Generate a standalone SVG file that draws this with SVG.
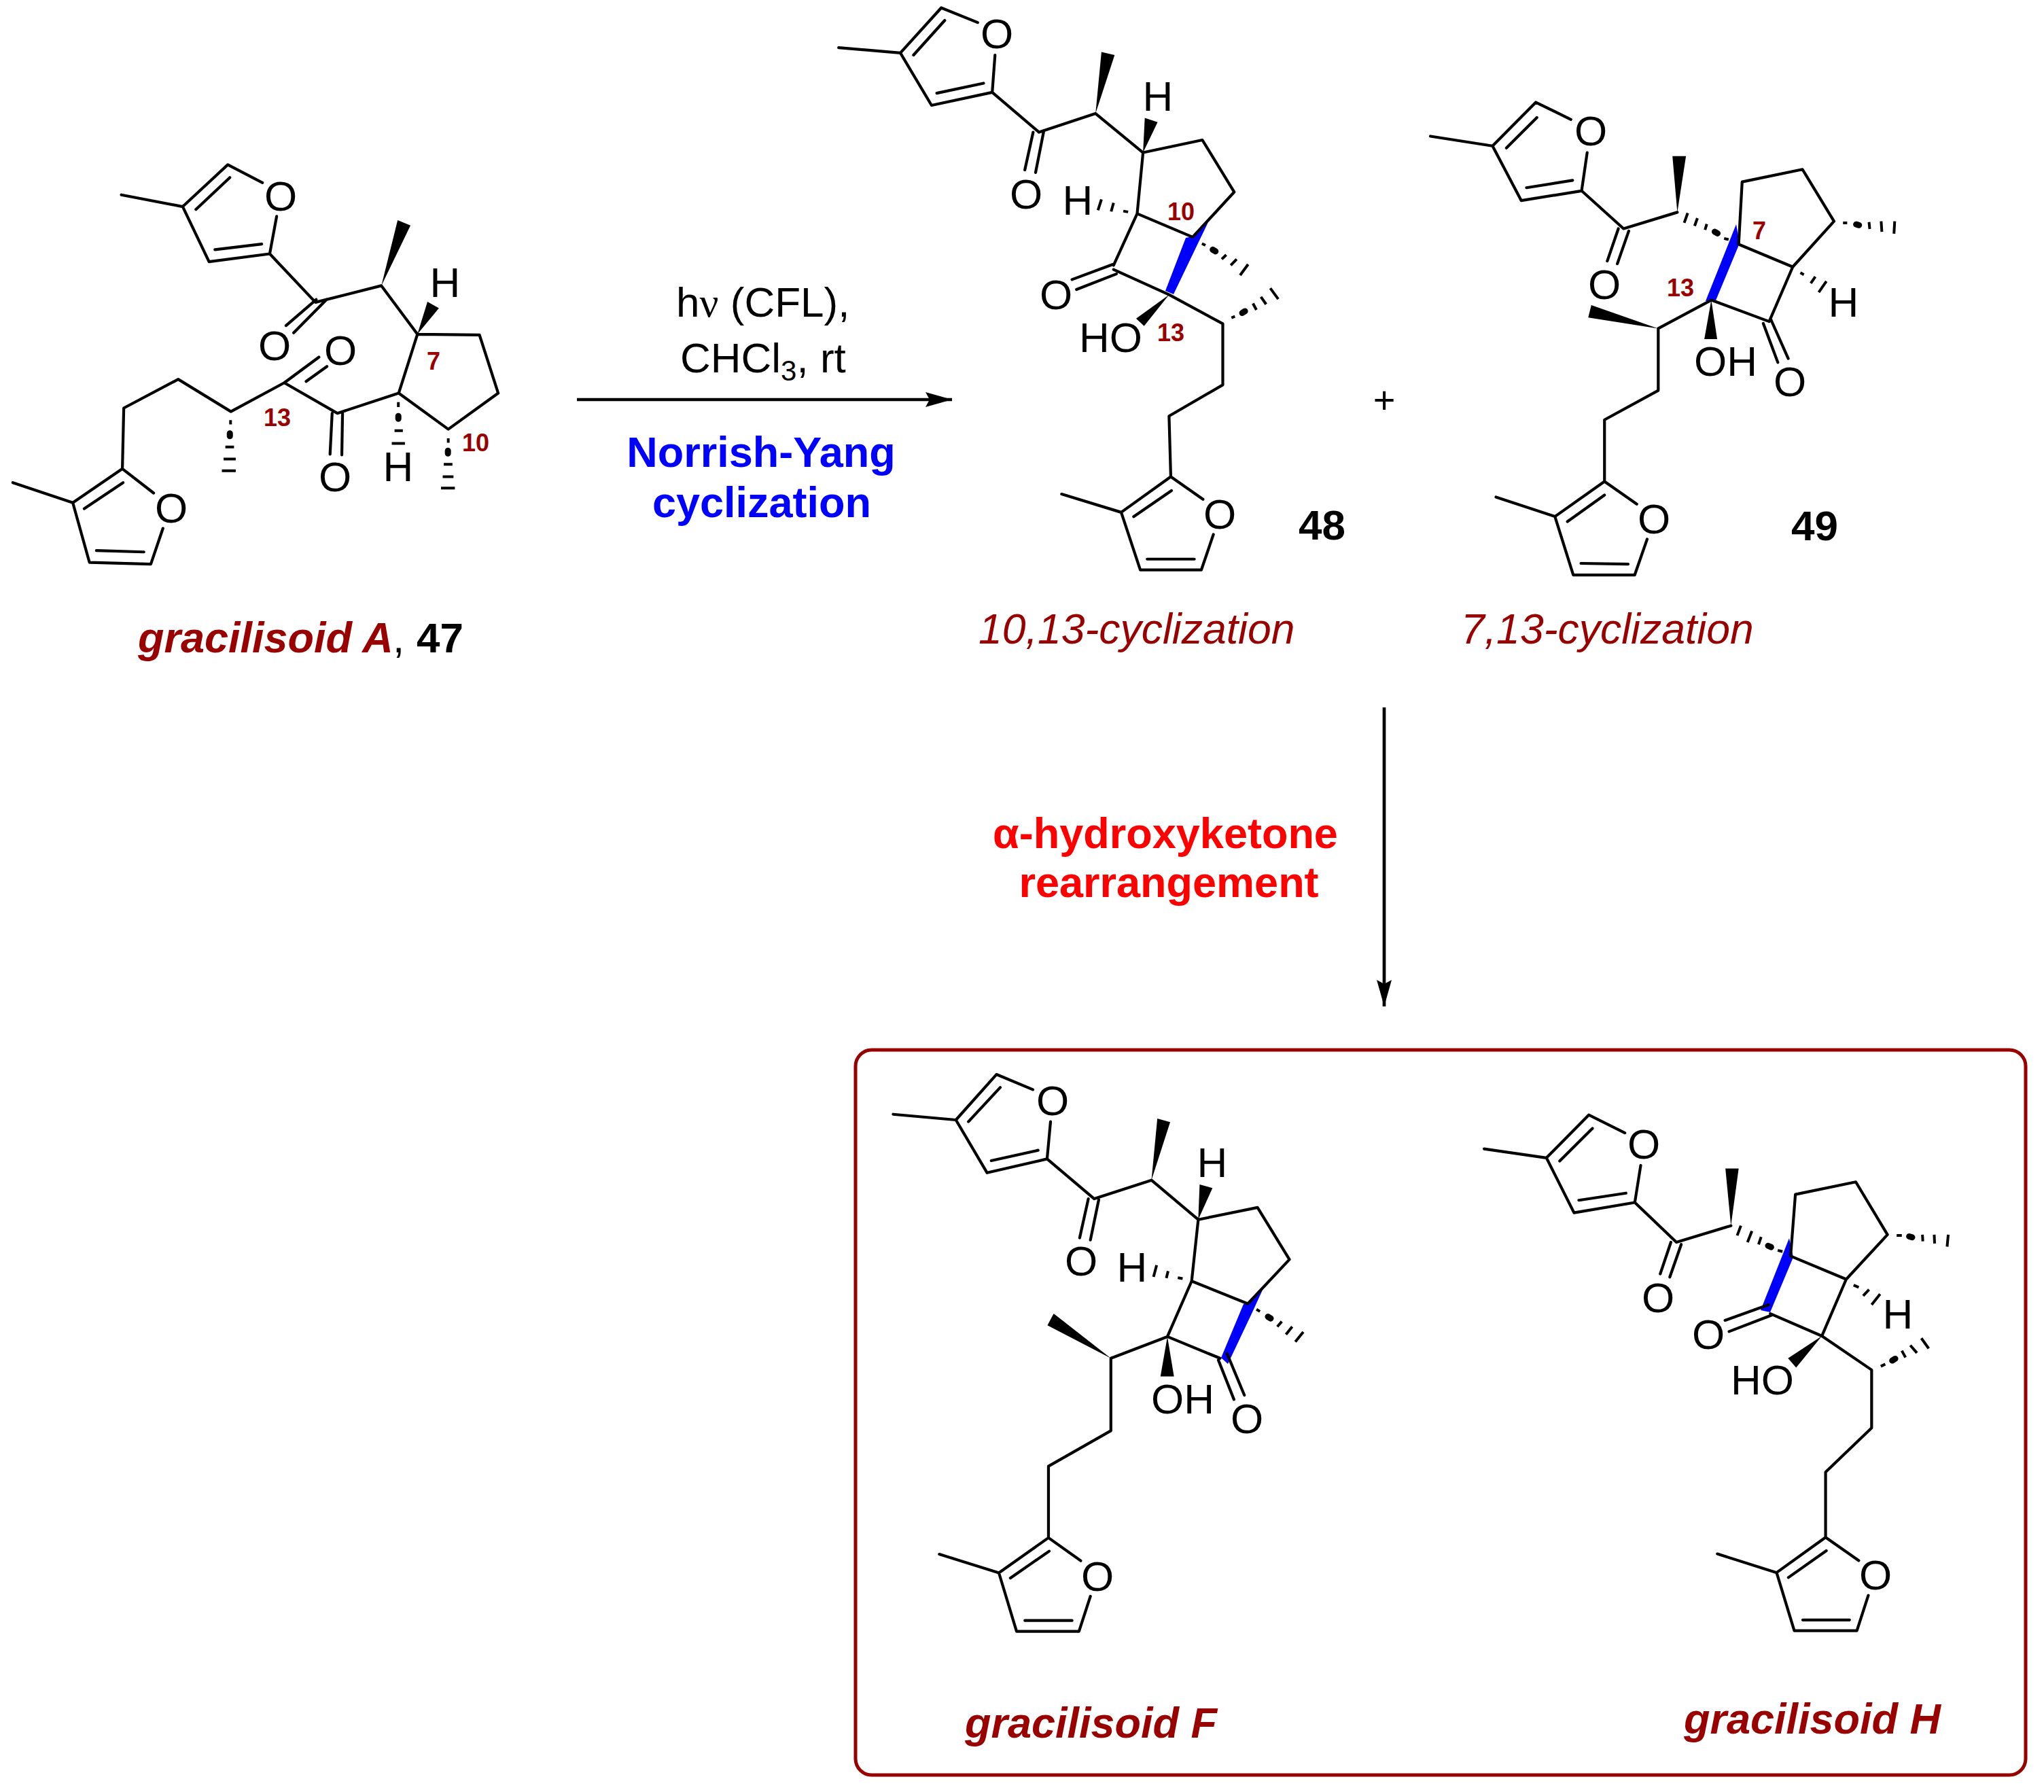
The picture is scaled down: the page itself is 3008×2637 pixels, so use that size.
<svg xmlns="http://www.w3.org/2000/svg" width="3008" height="2637" viewBox="0 0 3008 2637">
<style>
text{font-family:"Liberation Sans",Arial,sans-serif;font-size:62px;fill:#000}
.a{text-anchor:middle}
.n{font-size:36px;fill:#900;text-anchor:middle;font-weight:bold}
.t{font-weight:bold;font-style:italic;font-size:63px;fill:#900}
.c{font-style:italic;font-size:62.5px;fill:#900}
.l{font-weight:bold;font-size:63px;text-anchor:middle}
.bl{fill:#00f}
.rd{fill:#f00}
.b{fill:none;stroke:#000;stroke-width:4.2;stroke-linecap:round;stroke-linejoin:round;vector-effect:non-scaling-stroke}
.h{fill:none;stroke:#000;stroke-width:4;vector-effect:non-scaling-stroke}
.d{fill:none;stroke:#000;stroke-width:9;stroke-linecap:round;vector-effect:non-scaling-stroke}
.w{fill:#000}
.u{fill:#00f}
.r{fill:none;stroke:#000;stroke-width:4.7}
</style>
<defs>
<marker id="ah" markerUnits="userSpaceOnUse" markerWidth="40" markerHeight="22" refX="39" refY="11" orient="auto"><path d="M0 0L39 11L0 22L6 11Z" fill="#000"/></marker>
</defs>
<g id="connectors">
<line class="r" x1="849" y1="588" x2="1401" y2="588" marker-end="url(#ah)"/>
<line class="r" x1="2037" y1="1041" x2="2037" y2="1481" marker-end="url(#ah)"/>
</g>
<g id="conditions">
<text x="995" y="466">h<tspan font-family="Liberation Serif">ν</tspan> (CFL),</text>
<text x="1001" y="548">CHCl<tspan font-size="42" dy="12">3</tspan><tspan dy="-12">, rt</tspan></text>
<text class="l bl" x="1120" y="687">Norrish-Yang</text>
<text class="l bl" x="1121" y="761">cyclization</text>
<text class="a" x="2037" y="608" style="font-size:56px">+</text>
<text class="l rd" x="1715" y="1248">α-hydroxyketone</text>
<text class="l rd" x="1720" y="1320">rearrangement</text>
</g>
<g id="mol47">
<g transform="translate(0 200) scale(.5102)">
<path class="b" d="M350 170L527 204L657 83L757 135M565 212L663 120M798 232L778 340L603 363L527 204M620 328L755 312M778 340L910 480L1100 432L1204 572M912 472L825 547M942 472L847 568M1204 572L1383 574L1437 742L1293 846L1150 742L1204 572M1150 742L973 800L820 712L666 795L514 702L357 785L353 960L210 1058L37 1000M958 800L952 918M988 800L986 920M820 712L920 638M883 708L943 665M355 1000L243 1075M353 960L443 1030M470 1132L435 1235L258 1230L210 1058M415 1200L278 1196"/>
<polygon class="w" points="1100,432 1147,243 1184,258"/>
<polygon class="w" points="1204,572 1233,478 1266,497"/>
<path class="h" d="M1149 768V782M1138 850H1162M1130 887H1168M665 820V832M650 897H675M645 932H680M640 966H680M1293 872V885M1280 947H1305M1277 983H1308M1272 1016H1312"/>
<path class="d" d="M1149 808V816M663 858V866M1292 908V916"/>
</g>
<text class="a" x="413" y="310">O</text>
<text class="a" x="404" y="530">O</text>
<text class="a" x="501" y="537">O</text>
<text class="a" x="493" y="723">O</text>
<text class="a" x="252" y="769">O</text>
<text class="a" x="655" y="437">H</text>
<text class="a" x="586" y="708">H</text>
<text class="n" x="638" y="544">7</text>
<text class="n" x="408" y="627">13</text>
<text class="n" x="700" y="664">10</text>
<text class="t" x="203" y="960">gracilisoid A</text>
<text x="578" y="960">,</text>
<text x="613" y="960" font-weight="bold">47</text>
</g>
<g id="mol48">
<polygon class="u" points="1715,428 1745,350 1755,348 1778,327 1763,358 1727,433"/>
<g transform="translate(1200 0) scale(.5102 .6378)">
<path class="b" d="M67 110L245 122L363 18L468 52M283 127L373 47M518 127L510 213L335 243L245 122M350 215L485 192M510 213L645 305L808 262L945 352M628 305L604 392M658 305L635 398M945 352L1116 323L1208 443L1088 547L928 493L945 352M928 493L860 612M860 622L1020 680L1175 747L1175 888L1020 960L1025 1100L882 1182L710 1140M858 610L740 645M868 632L753 668M1027 1132L918 1192M1025 1100L1118 1152M1148 1233L1113 1315L937 1315L882 1182M1093 1290L957 1290"/>
<polygon class="w" points="808,262 825,120 863,127"/>
<polygon class="w" points="945,352 950,272 987,282"/>
<polygon class="w" points="1020,680 925,735 948,752"/>
<path class="h" d="M888 487L902 489M860 468L853 488M825 460L815 485M1115 562L1125 566M1172 598L1185 588M1198 612L1215 598M1225 635L1248 610M1200 733L1210 730M1262 700L1272 715M1285 685L1300 702M1312 665L1335 690"/>
<path class="d" d="M1146 576L1154 580M1231 722L1239 718"/>
</g>
<text class="a" x="1467" y="71">O</text>
<text class="a" x="1510" y="307">O</text>
<text class="a" x="1554" y="455">O</text>
<text class="a" x="1795" y="778">O</text>
<text class="a" x="1704" y="163">H</text>
<text class="a" x="1586" y="316">H</text>
<text x="1588" y="518">HO</text>
<text class="n" x="1738" y="324">10</text>
<text class="n" x="1723" y="502">13</text>
<text x="1911" y="794" font-weight="bold">48</text>
<text class="c" x="1440" y="947">10,13-cyclization</text>
</g>
<g id="mol49">
<polygon class="u" points="2510,443 2555,330 2560,358 2525,442"/>
<g transform="translate(2050 100) scale(.5102 .574)">
<path class="b" d="M108 175L287 200L412 88L513 132M327 205L415 127M560 217L544 315L370 340L287 200M385 307L518 288M544 315L665 412L820 370M650 412L618 495M680 418L647 502M997 452L1007 292L1181 260L1272 393L1153 510L997 452M1153 510L1085 650L918 595L765 668L765 827L610 902L610 1060L467 1150L297 1100M1068 655L1110 755M1090 645L1140 745M610 1095L503 1163M610 1060L703 1118M733 1208L697 1300L520 1300L467 1150M678 1272L542 1270"/>
<polygon class="w" points="820,370 806,226 845,226"/>
<polygon class="w" points="918,595 898,695 935,695"/>
<polygon class="w" points="765,668 572,608 563,640"/>
<path class="h" d="M850 372L840 397M878 385L870 405M905 400L900 415M955 437L968 440M1298 397L1310 397M1373 395L1375 413M1408 393L1410 420M1447 393L1445 425M1175 525L1185 530M1205 552L1218 535M1228 575L1250 547"/>
<path class="d" d="M928 420L936 424M1336 401L1344 403"/>
</g>
<text class="a" x="2341" y="214">O</text>
<text class="a" x="2361" y="440">O</text>
<text class="a" x="2634" y="583">O</text>
<text class="a" x="2434" y="785">O</text>
<text class="a" x="2713" y="466">H</text>
<text x="2493" y="553">OH</text>
<text class="n" x="2589" y="352">7</text>
<text class="n" x="2473" y="436">13</text>
<text x="2636" y="795" font-weight="bold">49</text>
<text class="c" x="2150" y="947">7,13-cyclization</text>
</g>
<g id="product-box">
<rect x="1259" y="1545" width="1722" height="1067" rx="24" fill="none" stroke="#900" stroke-width="5"/>
</g>
<g id="molF">
<polygon class="u" points="1797,1998 1830,1919 1837,1918 1859,1896 1842,1933 1807,2007"/>
<g transform="translate(1270 1560) scale(.5102 .6378)">
<path class="b" d="M87 125L268 138L385 33L490 68M304 142L396 63M541 142L531 228L358 260L268 138M370 232L505 208M531 228L667 320L832 277L967 368M650 320L625 410M680 322L656 415M967 368L1138 340L1230 460L1110 562L948 510L967 368M948 510L878 638L1030 688M1025 692L1070 783M1050 677L1100 773M878 638L715 688L715 855L535 937L535 1102L392 1183L220 1140M537 1133L425 1195M535 1102L628 1155M656 1237L623 1318L443 1318L392 1183M603 1293L467 1293"/>
<polygon class="w" points="832,277 849,135 886,143"/>
<polygon class="w" points="967,368 971,287 1008,295"/>
<polygon class="w" points="878,638 858,730 897,730"/>
<polygon class="w" points="715,688 550,585 532,612"/>
<path class="h" d="M908 502L922 504M880 487L875 503M847 473L838 500M1135 575L1145 580M1195 615L1208 603M1220 633L1238 615M1247 650L1270 627"/>
<path class="d" d="M1168 592L1176 596"/>
</g>
<text class="a" x="1549" y="1641">O</text>
<text class="a" x="1591" y="1877">O</text>
<text class="a" x="1835" y="2109">O</text>
<text class="a" x="1615" y="2341">O</text>
<text class="a" x="1784" y="1732">H</text>
<text class="a" x="1666" y="1886">H</text>
<text x="1694" y="2080">OH</text>
<text class="t" x="1420" y="2557">gracilisoid F</text>
</g>
<g id="molH">
<polygon class="u" points="2591,1928 2633,1822 2639,1850 2605,1931"/>
<g transform="translate(2150 1600) scale(.542 .657)">
<path class="b" d="M63 138L232 158L347 62L445 102M268 165L357 92M488 175L472 258L307 281L232 158M320 253L448 237M472 258L585 347L733 310M570 347L541 418M598 352L567 425M895 378L908 240L1072 212L1158 330L1046 430L895 378M1046 430L980 557L840 507M835 487L717 522M845 510L728 547M980 557L1115 633L1115 763L990 862L990 1008L857 1087L696 1045M992 1038L889 1098M990 1008L1080 1060M1106 1138L1075 1217L905 1217L857 1087M1055 1193L928 1193"/>
<polygon class="w" points="733,310 718,182 754,182"/>
<polygon class="w" points="980,557 888,607 910,628"/>
<path class="h" d="M760 310L750 332M790 322L778 347M815 335L808 352M860 365L873 368M1140 625L1152 620M1197 590L1207 605M1220 578L1238 595M1250 562L1270 585M1183 332L1197 332M1253 330L1254 345M1285 330L1286 350M1323 330L1320 357M1066 443L1080 448M1092 467L1108 453M1115 487L1138 463"/>
<path class="d" d="M834 355L842 358M1171 612L1179 608M1217 334L1225 336"/>
</g>
<text class="a" x="2419" y="1705">O</text>
<text class="a" x="2440" y="1931">O</text>
<text class="a" x="2514" y="1985">O</text>
<text class="a" x="2760" y="2339">O</text>
<text class="a" x="2793" y="1955">H</text>
<text x="2547" y="2052">HO</text>
<text class="t" x="2478" y="2551">gracilisoid H</text>
</g>
</svg>
